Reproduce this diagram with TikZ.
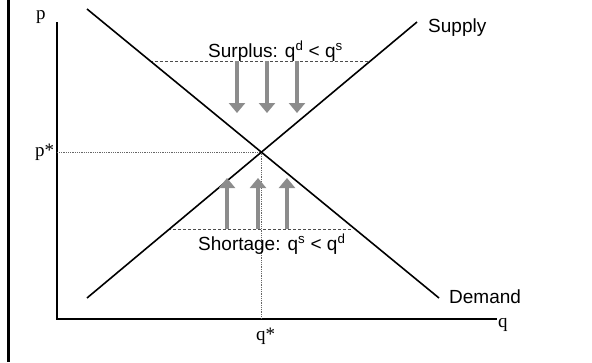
\documentclass[tikz,border=0pt]{standalone}
\usepackage{fontspec}
\setmainfont{Liberation Serif}
\newfontfamily\sansfont{Liberation Sans}
\usepackage{tikz}
\definecolor{pfeilgrau}{RGB}{140, 140, 140}
\usetikzlibrary{arrows.meta}

\begin{document}
\begin{tikzpicture}[x=1pt, y=-1pt,
				kurve/.style={line width=1.6pt, black},
				achse/.style={line width=1.3pt, black},
				hilfslinie/.style={densely dotted, line width=0.8pt, gray!80!black},
				niveau/.style={dash pattern=on 3pt off 2pt, line width=0.8pt, gray!60!black},
				pfeil/.style={pfeilgrau, line width=4pt, -{Triangle[width=16pt, length=10pt]}},
				serif/.style={font=\fontsize{19}{22}\selectfont, inner sep=0pt, anchor=base west},
				sans/.style={font=\sansfont\fontsize{19}{22}\selectfont, inner sep=0pt, anchor=base west}]
				\useasboundingbox (0,0) rectangle (592,362);
				% Rand links
				\draw[line width=3pt] (8,0) -- (8,362);
				% Achsen zeichnen
				\coordinate (O) at (57,319);
				\coordinate (ptop) at (57,22);
				\coordinate (qend) at (497,319);
				\draw[achse] (ptop) -- (O) -- (qend);
				% Angebot und Nachfrage
				\coordinate (D1) at (87,9);
				\coordinate (D2) at (439,298);
				\coordinate (S1) at (87,298);
				\coordinate (S2) at (417,22);
				\coordinate (E) at (intersection of D1--D2 and S1--S2);
				% Gleichgewicht
				\draw[hilfslinie] (E) -- (E -| O);
				\draw[hilfslinie] (E) -- (E |- O);
				% Ueberschuss / Knappheit
				\coordinate (U1) at (150,61);
				\coordinate (U2) at (368,61);
				\coordinate (K1) at (168,229);
				\coordinate (K2) at (352,229);
				\draw[niveau] (U1) -- (U2);
				\draw[niveau] (K1) -- (K2);
				\draw[kurve] (D1) -- (D2);
				\draw[kurve] (S1) -- (S2);
				\foreach \x in {237,267,297} \draw[pfeil] (\x,61) -- (\x,113);
				\foreach \x in {227,258,287} \draw[pfeil] (\x,229) -- (\x,178);
				% Beschriftung
				\node[serif] (plabel) at (36,19) {p};
				\node[serif] (pstern) at (35,156) {p*};
				\node[serif] (qstern) at (256,340) {q*};
				\node[serif] (qlabel) at (498,327) {q};
				\node[sans] (supply) at (428,32) {Supply};
				\node[sans] (demand) at (449,303) {Demand};
				\node[sans] (surplus) at (208,57) {Surplus: q\textsuperscript{d} < q\textsuperscript{s}};
				\node[sans] (shortage) at (198,250) {Shortage: q\textsuperscript{s} < q\textsuperscript{d}};
			\end{tikzpicture}
\end{document}
